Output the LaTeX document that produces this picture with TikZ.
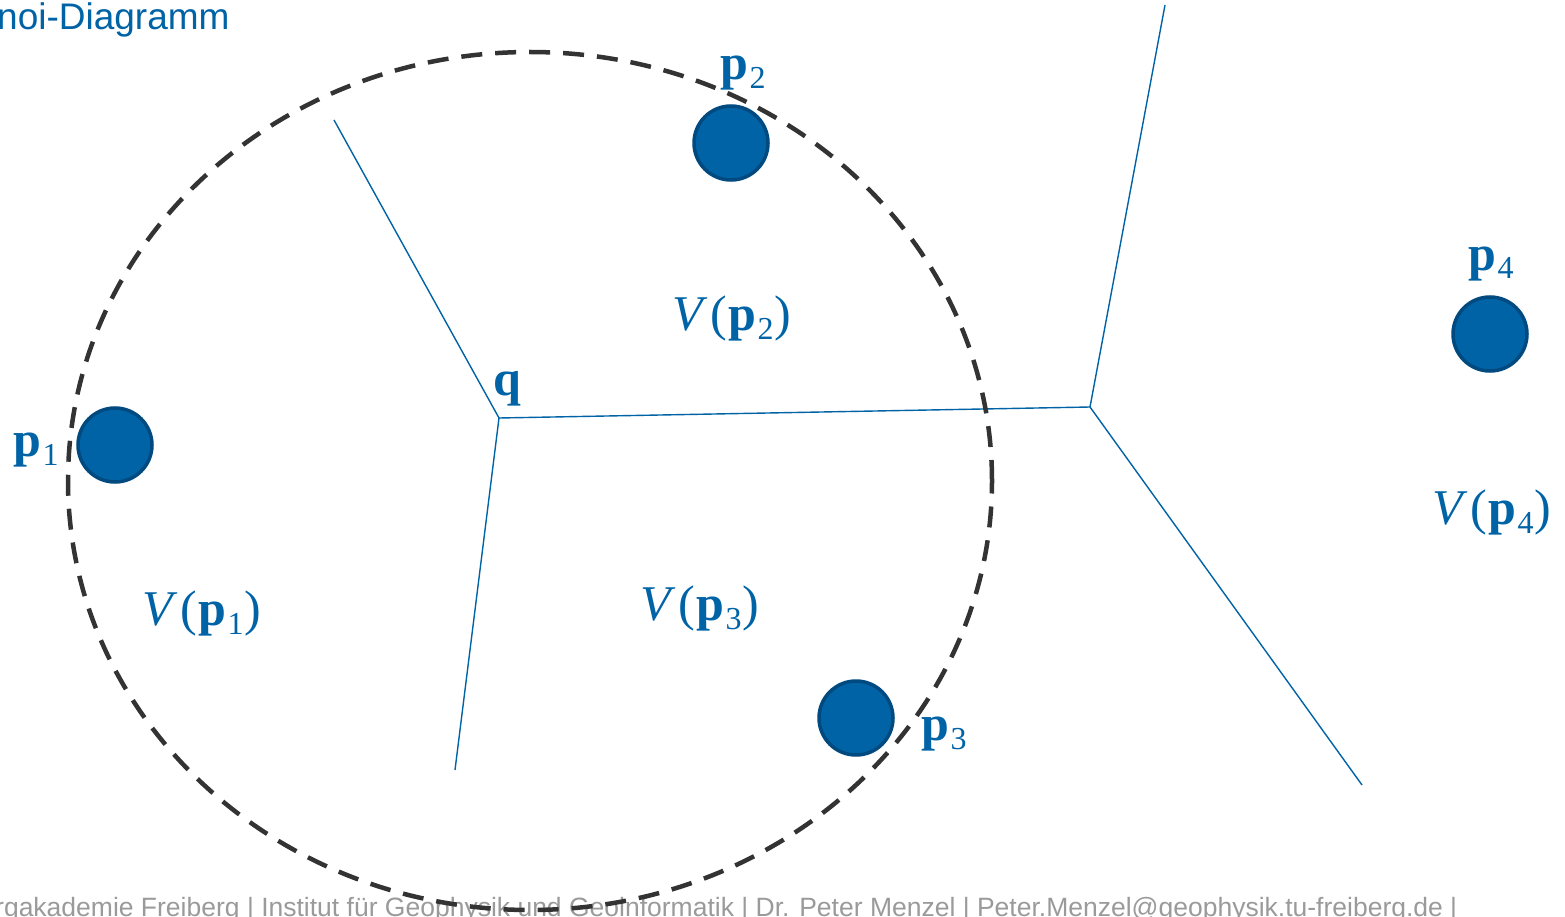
\documentclass[tikz,border=0pt]{standalone}
\usetikzlibrary{shapes.geometric}
\usepackage{fontspec}
\setmainfont{Liberation Sans}
\newfontfamily\lblfont{Liberation Serif}
\definecolor{tublue}{HTML}{0063A6}
\definecolor{tudark}{HTML}{004A7F}
\definecolor{dashgray}{HTML}{333333}
\definecolor{footgray}{HTML}{9A9A9A}
\newcommand\bp[1]{\textbf{p}\kern1.5pt\raisebox{-9pt}{\fontsize{32}{34}\selectfont #1}}
\newcommand\Vof[1]{\textit{V}\kern3pt(\kern1pt\bp{#1}\kern1pt)}
\tikzset{
  site/.style={circle, fill=tublue, draw=tudark, line width=3.5pt, minimum size=74pt, inner sep=0pt},
  edge/.style={draw=tublue, line width=1.4pt},
  lbl/.style={text=tublue, font=\lblfont\fontsize{50}{54}\selectfont, inner sep=0pt, anchor=base west},
  circ/.style={draw=dashgray, line width=4.5pt, dash pattern=on 21pt off 13pt}
}
\begin{document}
\begin{tikzpicture}[x=1pt,y=-1pt]
\useasboundingbox (0,0) rectangle (1565,917);
\clip (0,0) rectangle (1565,917);
% title and footer
\node[anchor=base west, text=tublue, font=\fontsize{37}{42}\selectfont, inner sep=0pt] (title) at (-3,30) {noi-Diagramm};
\node[anchor=base west, text=footgray, font=\fontsize{26.5}{30}\selectfont, inner sep=0pt] (foot) at (-5,916) {rgakademie Freiberg | Institut für Geophysik und Geoinformatik | Dr. Peter Menzel | Peter.Menzel@geophysik.tu-freiberg.de |};
% Voronoi edges
\coordinate (q) at (499,418);
\coordinate (v) at (1090,407);
\coordinate (e1) at (334,120);
\coordinate (e2) at (455,770);
\coordinate (e3) at (1165,5);
\coordinate (e4) at (1362,785);
\draw[edge] (e1) -- (q) -- (e2);
\draw[edge] (q) -- (v) -- (e3);
\draw[edge] (v) -- (e4);
% circle
\node[circ, ellipse, minimum width=924pt, minimum height=858pt, inner sep=0pt] (cc) at (530,481) {};
% sites
\node[site] (p1) at (115,445) {};
\node[site] (p2) at (731,143) {};
\node[site] (p3) at (856,718) {};
\node[site] (p4) at (1490,334) {};
% labels
\node[lbl] (l1) at (13,456) {\bp{1}};
\node[lbl] (l2) at (720,80) {\bp{2}};
\node[lbl] (l3) at (921,740) {\bp{3}};
\node[lbl] (l4) at (1468,270) {\bp{4}};
\node[lbl] (lq) at (493,395) {\textbf{q}};
\node[lbl] (v1) at (142,625) {\Vof{1}};
\node[lbl] (v2) at (672,330) {\Vof{2}};
\node[lbl] (v3) at (640,620) {\Vof{3}};
\node[lbl] (v4) at (1432,524) {\Vof{4}};
\end{tikzpicture}
\end{document}
